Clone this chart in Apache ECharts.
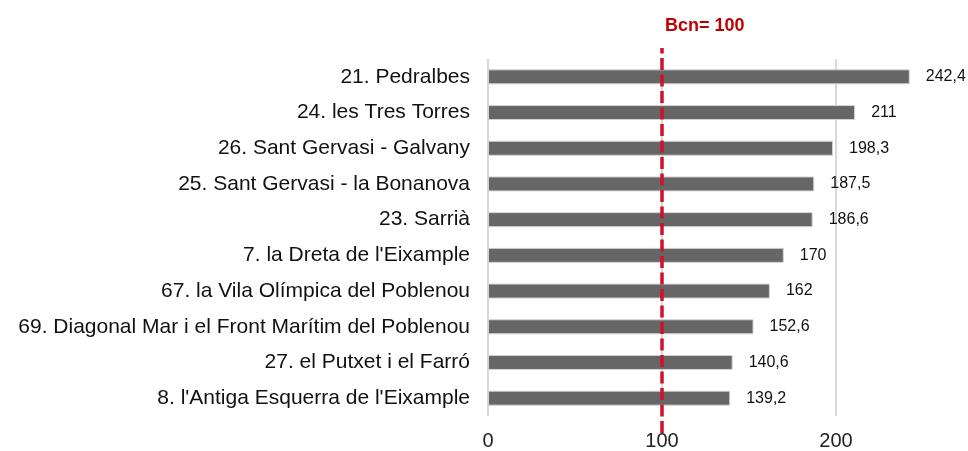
<!DOCTYPE html>
<html>
<head>
<meta charset="utf-8">
<script src="https://cdn.jsdelivr.net/npm/echarts@6/dist/echarts.min.js"></script>
<style>
  html, body { margin: 0; padding: 0; background: #fff; }
  #chart { width: 968px; height: 451px; }
</style>
</head>
<body>
<div id="chart"></div>
<script>
// barris, de dalt a baix
const barris = [
  "21. Pedralbes",
  "24. les Tres Torres",
  "26. Sant Gervasi - Galvany",
  "25. Sant Gervasi - la Bonanova",
  "23. Sarrià",
  "7. la Dreta de l'Eixample",
  "67. la Vila Olímpica del Poblenou",
  "69. Diagonal Mar i el Front Marítim del Poblenou",
  "27. el Putxet i el Farró",
  "8. l'Antiga Esquerra de l'Eixample"
];
const valors = [242.4, 211, 198.3, 187.5, 186.6, 170, 162, 152.6, 140.6, 139.2];
const ticksX = [0, 100, 200];
const bcn = 100;
const bcnLabel = "Bcn= 100";

const font = "Liberation Sans, Arial, sans-serif";
const chart = echarts.init(document.getElementById("chart"));

const option = {
  animation: false,
  title: {
    text: bcnLabel,
    left: 660,
    top: 12,
    textStyle: { color: "#c00000", fontSize: 18, fontWeight: "bold", fontFamily: font }
  },
  grid: [
    { left: 488, right: 45, top: 59, bottom: 34 },
    { left: 488, right: 45, top: 48, bottom: 18 }
  ],
  xAxis: [
    {
      type: "value",
      gridIndex: 0,
      min: 0,
      max: 250,
      interval: 100,
      axisLine: { show: false },
      axisTick: { show: false },
      splitLine: { show: false },
      axisLabel: {
        fontSize: 20,
        color: "#222",
        fontFamily: font,
        margin: 15,
        formatter: function (v) { return ticksX.indexOf(v) >= 0 ? String(v) : ""; }
      }
    },
    { type: "value", gridIndex: 1, min: 0, max: 250, show: false }
  ],
  yAxis: [
    {
      type: "category",
      gridIndex: 0,
      data: barris,
      inverse: true,
      axisLine: { show: false },
      axisTick: { show: false },
      axisLabel: { fontSize: 21, color: "#111", fontFamily: font, margin: 18 }
    },
    { type: "value", gridIndex: 1, show: false, min: 0, max: 1 }
  ],
  series: [
    {
      type: "bar",
      xAxisIndex: 0,
      yAxisIndex: 0,
      data: valors,
      barWidth: 15,
      z: 3,
      itemStyle: { color: "#666666", borderColor: "#d4d4d4", borderWidth: 1 },
      label: {
        show: true,
        position: "right",
        distance: 16,
        fontSize: 16,
        color: "#111",
        fontFamily: font,
        formatter: function (p) { return String(p.value).replace(".", ","); }
      },
      markLine: {
        silent: true,
        symbol: "none",
        z: 1,
        label: { show: false },
        lineStyle: { color: "#d9d9d9", type: "solid", width: 2 },
        data: ticksX.map(function (t) { return { xAxis: t }; })
      }
    },
    {
      type: "scatter",
      xAxisIndex: 1,
      yAxisIndex: 1,
      data: [],
      z: 5,
      markLine: {
        silent: true,
        symbol: "none",
        label: { show: false },
        lineStyle: { color: "#d0112b", type: [12, 4.5], width: 3.5 },
        data: [{ xAxis: bcn }]
      }
    }
  ]
};

chart.setOption(option);
</script>
</body>
</html>
